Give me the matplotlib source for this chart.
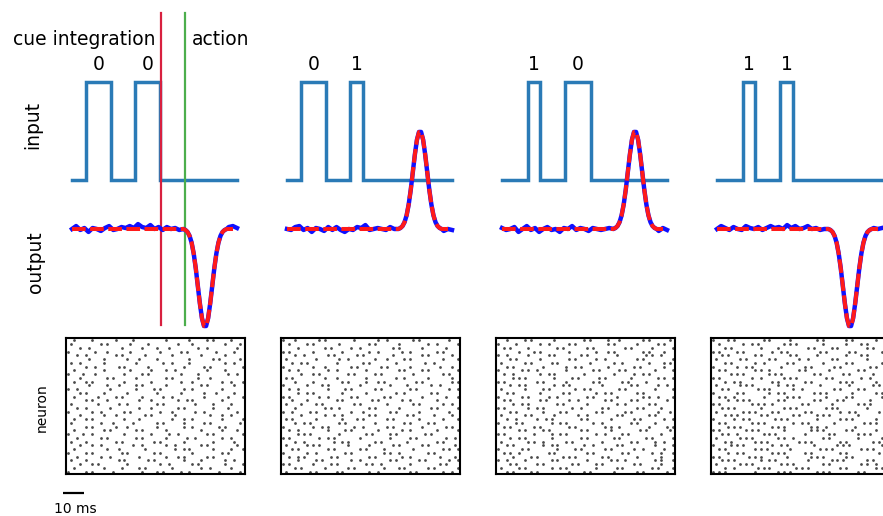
import numpy as np
import matplotlib.pyplot as plt

# Values (time in ms)

# cue labels above every column
cue_labels = [["0", "0"], ["0", "1"], ["1", "0"], ["1", "1"]]
# input pulses: rise and fall of both pulses for each column
pulse_on = [[7, 30.5], [7, 30.5], [12.5, 30.5], [12.5, 30.5]]
pulse_off = [[19, 42.5], [19, 37], [18.5, 43], [18.5, 37]]
trial_end = 80
# sign of the output response (down for 0 0 and 1 1)
output_sign = [-1, 1, 1, -1]

# shape of the output response
bump_times = [54, 55, 56, 57, 58, 59, 60, 61, 62, 63, 64, 65, 66, 67, 68, 69, 70, 71, 72, 73, 74, 75]
bump_values = [0, 0.01, 0.03, 0.07, 0.14, 0.25, 0.40, 0.58, 0.76, 0.91, 0.99, 0.99,
               0.91, 0.76, 0.58, 0.40, 0.25, 0.14, 0.07, 0.03, 0.01, 0]

# noisy target (blue) around the baseline
noise_times_pre = [0, 2, 4, 6, 8, 10, 12, 14, 16, 18, 20, 22, 24, 26, 28, 30, 32, 34, 36, 38,
                   40, 42, 44, 46, 48, 50, 52]
noise_times_post = [76, 78, 80]
noise_pre = [
    [0.00, 0.03, -0.01, 0.01, -0.03, 0.01, 0.00, -0.02, 0.01, 0.03, -0.01, 0.00, 0.02, 0.01,
     0.03, 0.01, 0.05, 0.02, 0.01, 0.04, 0.00, 0.02, -0.01, 0.02, 0.00, 0.01, -0.01],
    [0.00, -0.01, 0.02, 0.03, -0.01, 0.01, -0.03, 0.01, 0.00, -0.02, 0.02, -0.01, 0.02, -0.01,
     -0.03, 0.00, -0.01, 0.02, 0.01, 0.04, -0.01, 0.00, 0.01, 0.00, -0.01, 0.02, 0.00],
    [0.01, -0.01, 0.00, 0.02, -0.03, 0.00, 0.03, -0.01, 0.01, -0.03, 0.00, 0.02, -0.01, 0.00,
     -0.03, 0.01, 0.00, 0.03, -0.01, 0.01, 0.00, -0.02, 0.01, 0.00, -0.01, 0.00, 0.01],
    [0.00, 0.03, 0.01, -0.01, 0.02, 0.00, -0.01, 0.03, 0.01, 0.00, 0.02, -0.01, 0.01, 0.03,
     0.01, 0.02, 0.00, 0.04, 0.01, 0.03, 0.00, 0.01, 0.03, 0.00, 0.01, -0.01, 0.00],
]
noise_post = [[0.02, 0.03, 0.01], [-0.02, 0.00, -0.01], [-0.02, 0.01, -0.01], [0.01, 0.00, 0.01]]

# lines separating the cue integration and the action periods
cue_end_ms = 43.3
action_start_ms = 54.8
scalebar_ms = 10

# raster of spikes, one string per neuron, 'x' = spike
raster_1 = """
..x.....x.......x.....x..........x.......x.....x.x.....x....
.x.........x.x.......x.....x.........x....x..........x....x.
....x..x..........x......x....x...x.........x..x.........x..
x........x...x.......x.........x......x.x.........x.....x...
...x..x.........x.x.......x........x.........x.......x......
.......x....x.......x...x.....x..........x.......x.x......x.
.x..x.......x..........x........x..x.....x...........x..x...
......x..x.......x.x.......x...........x......x.x..........x
..x.........x........x......x....x..x..........x.....x......
x....x...x.........x.....x.x..........x.....x.........x..x..
....x........x.x.......x.........x.x........x...x...........
..x...x.x..........x........x.........x...x.........x..x...x
.......x.....x...x.....x.x.......x...........x.x........x...
x..x..........x........x.....x.x.......x..x.........x.......
....x.x.....x.......x.........x.......x.......x...x.....x...
..x.......x.....x.x......x......x..x..........x.......x....x
......x.x....x..........x...x........x..x.x.........x.......
.x........x......x..x.........x.x..........x.....x.....x....
...x..x.......x.........x...x........x.x.........x....x.....
x.......x..x.......x.x.........x...x.......x..x..........x..
....x.......x...x.........x.x.......x...........x...x..x....
..x...x.x..........x....x..........x...x..x.........x......x
.x.........x...x......x.......x.x......x......x.x.........x.
......x.x.......x...x.........x........x..x........x.x......
..x.........x.x........x.x.......x...........x......x....x..
x....x..x..........x........x.....x..x.........x.x.........x
...x.......x.x.........x.x.......x......x..x........x..x....
.x....x.........x.x..........x.x.......x.........x......x...
....x...x..x..........x..x.......x..x........x.x.........x..
..x..........x...x........x.........x..x.x.......x.....x...x
x.....x.x.........x.x........x.x..........x.........x.x.....
...x.......x..x.........x........x...x.x.......x.x..........
.x....x..........x.x.......x.x.........x.....x.......x..x...
....x...x.x.........x..........x..x.......x.x........x.....x
..x.........x.....x.....x.x........x.........x..x......x....
x.....x.x......x.........x....x.x.....x..x.........x......x.
"""

raster_2 = """
x...x.......x.x.........x.......x..x........x.x.........x...
..x.....x.x........x.........x.x.......x.........x..x......x
.....x........x.x......x..x..........x.x.......x.......x....
x.x.......x.........x........x..x.......x..x........x.x.....
....x..x.......x.x.......x.x.........x.........x.x.......x..
.x.........x.......x..x........x...x.....x.x..........x....x
...x..x.x.........x........x.x........x.........x..x........
x.........x...x........x.x.......x.x.......x.........x...x..
..x..x.........x..x.........x..........x.x.....x.x.........x
......x...x.x.........x.x......x.x..........x.........x.x...
.x.x..........x...x.........x.........x..x.......x.......x..
....x.....x.........x.x.....x...x.x..........x.x.........x.x
x.......x....x.x..........x.........x.....x.......x..x......
..x..x.........x.....x.x.......x.x.........x.x..........x..x
.....x..x.x.........x.......x.........x..x........x.x.......
x.x.........x..x.......x.x........x.x..........x.......x...x
...x....x.........x.x.........x.x.......x..x........x.......
.x....x....x.x..........x.x........x........x.x.......x..x..
....x.........x.x..x.........x.x.......x..........x.x......x
x..x.....x.x...........x...x........x.x.......x.........x...
......x.......x..x..x........x.x..........x.x......x.....x..
.x.x.......x........x....x.x.......x.x........x.......x....x
....x..x.x.........x.x.........x.........x.x.....x.x........
x.........x..x.x........x..x.......x.x.........x.......x.x..
..x..x.........x.....x.x........x.......x..x........x......x
.....x.x.x.........x........x.x.....x.x.........x.x.........
x.x.........x..x.x........x.........x......x.x.........x..x.
....x..x.........x..x.x........x.x........x.........x.x.....
.x......x.x.x.........x......x.......x.x.......x.x........x.
...x.x.........x.x........x.x.....x.........x.........x.x..x
x.......x..x.........x.x..........x.x..x.........x.x........
..x..x.x........x.x..........x.x........x..x.........x....x.
.....x.....x.x.........x..x.........x.x.......x.x.......x..x
x.x.......x.....x.x.........x.x..x.........x.........x.x....
....x.x.......x.......x.x.........x....x.x.......x.x.......x
.x.......x.x......x.x........x..x..........x.x........x..x..
"""

raster_3 = """
...x.....x.x.......x.........x.x.....x...x.......x.x......x.
x.....x.......x..x......x.x..........x.x.......x......x.x...
..x.x.....x.........x.x.......x.x..........x.x......x......x
.......x....x.x.........x........x...x.x.........x.x....x...
x..x......x......x.x........x.x.........x.........x.x..x....
....x.x.......x.........x.x......x..x..........x.x.........x
.x.......x.x......x.x..........x.......x..x........x....x.x.
...x.x.........x.......x..x.x........x........x.x.......x...
x.......x.x..x.........x........x.x......x.x.........x.....x
..x..x........x..x.x.........x.........x......x..x.x........
.....x.x.x.........x.....x.x......x.x........x........x.x..x
x.x..........x.x.......x........x.x.......x.x.....x.........
....x..x.x.........x..x.x..........x.........x.x......x..x..
.x.......x.....x.x........x..x.x.........x.x.........x.....x
...x.x........x.......x.x........x..x.x........x.x..........
x.......x.x......x..x.........x.x.......x........x.x..x....x
..x.x.........x.x.......x..x........x.x......x.x.........x..
.....x..x.x.........x.x.......x.........x..x.......x.x......
x.x.......x..x.x.........x..x......x.x.........x.x.....x....
....x.x........x.....x.x.........x.x.......x.x........x...x.
.x.......x.x.......x.......x..x.........x.x........x.x......
...x..x......x..x.x.........x.x.......x.......x.x.......x..x
x.....x.x.........x..x.x........x..x.........x.x.....x......
..x.x.......x.x.........x.x.........x.x..x.........x.....x.x
.......x.x.....x.x..........x.x.......x.........x.x.......x.
x.x.........x.....x..x.x.........x..x.....x.x..........x....
....x..x.x........x.........x.x........x.x........x.x......x
.x........x.x..x.......x.x.........x.........x.x.....x..x...
...x.x.........x..x.x........x..x.......x.x..........x.....x
x.......x.x.........x.....x.x.......x.x.......x..x......x...
..x.x..x.........x.x..........x.x.........x.x.......x..x...x
.....x.....x.x........x.x.x........x.x.........x.......x....
x..x.....x........x.x.........x.......x.x..x.........x.x...x
....x.x......x.x.........x.x.....x.x..........x.x......x....
.x.....x.x........x..x.x.........x......x.x.........x.x....x
...x.x.....x.x..........x....x.x.......x.......x.x.......x..
"""

raster_4 = """
x....x.x.........x.x......x........x.x.......x.x.......x...x
..x.......x..x.x........x.x.x........x.......x....x.x.......
....x.x.........x.....x.........x.x.....x.x.........x.x...x.
x.x.....x.x.........x..x.x..........x.x.......x.x........x..
...x.x........x.x.........x.x......x.........x....x.x......x
.x.......x.x.......x.x.......x..x.......x.x.........x.....x.
....x.x.......x..x.......x.x.........x.......x.x.........x..
x.......x..x.x.........x.......x.x.......x.x.........x.x....
..x.x.........x.x..x.........x.x.......x.........x.x.......x
......x.x.x........x.x.x..........x.x.......x.x.......x.....
x.x..........x..x.......x.x.x.........x.x.........x..x.....x
....x..x.x..........x.x........x.x.........x.x.x.......x....
.x.......x.x.x........x..x.x........x.........x.......x.x..x
...x.x.........x.x.x.......x..x..........x.x.....x.x........
x.......x.x........x..x.x.........x.x.x........x.......x.x..
..x.x..x.........x.......x.x.x........x......x.x.........x.x
.....x..x.x.x.........x.x.........x.x.....x.x........x......
x.x..........x.x.x..x.........x.x.......x........x.x.x.....x
...x.x.x........x.......x.x.x.........x.x.x.........x.......
.x........x.x.x.....x.x........x.x.........x..x.x.......x..x
....x.x.x.......x.x........x.x.....x.x.x.........x..........x
x......x..x.x........x.x.x.........x.......x.x.x.......x.....
..x.x........x.x.x.........x..x.x........x.........x.x.x.....
.....x.x.x..........x.x.x........x.x..x.........x.........x.x
x.x........x.x.x........x........x.x.x.......x.x.......x.....
...x.x..x........x.x.x.........x.......x.x.......x.x.x......x
.x.......x.x.x........x.x..x.........x.x.........x.......x.x.
....x.x.......x.x.x..........x.x.x.........x.x........x.x....
x.....x.x.x.........x..x.x........x.......x.x.x..........x..x
..x.x.........x.x.x.......x.........x.x.x.........x.x.x......
.....x..x.x.........x.x.x......x.x.........x.x..........x.x.x
x.x.........x.x.x........x.......x.x.x.......x.x..........x..
...x.x.x........x..x.x..........x.......x.x.x.......x.x......
.x.......x.x.x.........x.x.x.........x.x..........x.x..x....x
....x..x.......x.x.x........x.x.x..........x.x.........x.x...
x.x.x.........x.......x.x.x........x.x.x.........x.x.........
"""

rasters = [raster_1, raster_2, raster_3, raster_4]

# colours
cor_input = '#2a7ab6'
cor_target = '#1010ff'
cor_output = '#ff1a1a'
cor_cue = '#d8203f'
cor_action = '#4cae4c'

W, H = 883, 516
COL_STEP = 215


def caixa(left, top, width, height):
    # axes box from pixel values (top-left origin)
    return [left / W, 1 - (top + height) / H, width / W, height / H]


def fig_xy(x, y):
    return x / W, 1 - y / H


def traco_input(on, off):
    t = [0]
    v = [0]
    for a, b in zip(on, off):
        t += [a, a, b, b]
        v += [0, 1, 1, 0]
    t.append(trial_end)
    v.append(0)
    return np.array(t), np.array(v)


def ler_raster(texto):
    linhas = [l for l in texto.strip().split('\n')]
    xs, ys = [], []
    for i, linha in enumerate(linhas):
        for j, c in enumerate(linha):
            if c == 'x':
                xs.append(j)
                ys.append(i)
    return np.array(xs), np.array(ys), len(linhas)


plt.rcParams['font.family'] = 'DejaVu Sans'
fig = plt.figure(figsize=(W / 100, H / 100), dpi=100)

input_offset = 0.5
trace_axes = []
for k in range(4):
    ax = fig.add_axes(caixa(72 + COL_STEP * k, 12, 165, 320))
    ax.set_xlim(0, trial_end)
    ax.set_ylim(-1.051, 2.214)
    ax.axis('off')
    trace_axes.append(ax)

    # input pulses
    t_in, v_in = traco_input(pulse_on[k], pulse_off[k])
    ax.plot(t_in, v_in + input_offset, color=cor_input, lw=2.5,
            solid_joinstyle='miter', clip_on=False, zorder=2)

    # target (blue, noisy) and output (red, dashed)
    sinal = output_sign[k]
    t_blue = noise_times_pre + bump_times + noise_times_post
    v_blue = noise_pre[k] + [sinal * b for b in bump_values] + noise_post[k]
    ax.plot(t_blue, v_blue, color=cor_target, lw=3.2, clip_on=False, zorder=4)
    t_red = [0] + bump_times + [trial_end]
    v_red = [0] + [sinal * b for b in bump_values] + [0]
    ax.plot(t_red, v_red, color=cor_output, lw=2.9, dashes=(3.4, 1.1),
            clip_on=False, zorder=5)

    # cue labels above the pulses
    for a, b, lab in zip(pulse_on[k], pulse_off[k], cue_labels[k]):
        ax.annotate(lab, xy=((a + b) / 2, 0), xycoords=('data', 'figure fraction'),
                    xytext=(0, (H - 70) * 0.72), textcoords='offset points',
                    ha='center', va='baseline', fontsize=13.5)

# period boundaries in the first column
ax0 = trace_axes[0]
ax0.plot([cue_end_ms, cue_end_ms], [-0.98, 2.2], color=cor_cue, lw=1.6, zorder=3, clip_on=False)
ax0.plot([action_start_ms, action_start_ms], [-0.98, 2.2], color=cor_action, lw=1.6, zorder=3,
         clip_on=False)

# scale bar (10 ms) under the first raster
bar_x0 = -4.4
bar_y = -2.69
ax0.plot([bar_x0, bar_x0 + scalebar_ms], [bar_y, bar_y], color='black', lw=1.6,
         solid_capstyle='butt', clip_on=False)

# spike rasters
for k in range(4):
    axr = fig.add_axes(caixa(66 + COL_STEP * k, 338, 179, 136))
    xs, ys, n = ler_raster(rasters[k])
    axr.plot(xs, ys, 'o', ms=2.0, mew=0, color='#4a4a4a')
    axr.set_xlim(-0.8, 59.8)
    axr.set_ylim(n - 0.4, -0.6)
    axr.set_xticks([])
    axr.set_yticks([])
    for s in axr.spines.values():
        s.set_linewidth(1.5)
        s.set_color('black')

# texts
fig.text(*fig_xy(13, 45), 'cue integration', fontsize=13.5, ha='left', va='baseline')
fig.text(*fig_xy(192, 45), 'action', fontsize=13.5, ha='left', va='baseline')
fig.text(*fig_xy(33, 125), 'input', fontsize=13.5, rotation=90, ha='center', va='center')
fig.text(*fig_xy(35, 262), 'output', fontsize=13.5, rotation=90, ha='center', va='center')
fig.text(*fig_xy(42, 408), 'neuron', fontsize=10, rotation=90, ha='center', va='center')
fig.text(*fig_xy(75, 513), '10 ms', fontsize=10, ha='center', va='baseline')

fig.savefig('out.png', dpi=100)
